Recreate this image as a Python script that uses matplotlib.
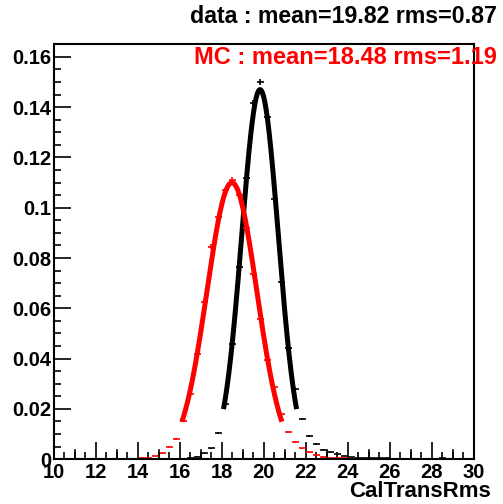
import numpy as np
import matplotlib
matplotlib.use("Agg")
import matplotlib.pyplot as plt
from matplotlib.ticker import MultipleLocator

plt.rcParams["font.family"] = ["Liberation Sans", "DejaVu Sans"]
plt.rcParams["font.weight"] = "bold"

# 60 bins between 10 and 30
edges = np.linspace(10, 30, 61)
centers = 0.5 * (edges[:-1] + edges[1:])
half_width = 0.5 * (edges[1] - edges[0])

# normalised histogram contents
data_vals = [0, 0, 0, 0, 0, 0, 0, 0, 0, 0,
             0, 0, 0, 0, 0, 0, 0, 0, 0.0002, 0.0004,
             0.0010, 0.0024, 0.0044, 0.0104, 0.0219, 0.0458, 0.0765, 0.112, 0.1418, 0.150,
             0.136, 0.1036, 0.0705, 0.0442, 0.0281, 0.0159, 0.0092, 0.0060, 0.0038, 0.0028,
             0.0020, 0.0012, 0.0009, 0.0006, 0.0005, 0.0004, 0.0003, 0.0003, 0.0002, 0.0002,
             0.0001, 0.0001, 0.0001, 0.0001, 0.0001, 0.0004, 0.0001, 0, 0, 0]
mc_vals = [0, 0, 0, 0, 0, 0, 0, 0, 0, 0,
           0.0001, 0.0001, 0.0003, 0.0006, 0.0012, 0.0024, 0.0048, 0.0080, 0.0151, 0.026,
           0.0418, 0.0625, 0.0845, 0.0964, 0.107, 0.111, 0.105, 0.092, 0.0737, 0.0558,
           0.0394, 0.0287, 0.018, 0.0108, 0.0068, 0.0044, 0.0028, 0.0016, 0.0010, 0.0006,
           0.0004, 0.0003, 0.0002, 0.0002, 0.0001, 0.0001, 0, 0, 0, 0,
           0, 0, 0, 0, 0, 0, 0, 0, 0, 0]

# gaussian fit parameters (amplitude, mean, sigma)
data_fit = (0.147, 19.82, 0.87)
mc_fit = (0.110, 18.48, 1.19)

data_label = "data : mean=19.82 rms=0.87"
mc_label = "MC : mean=18.48 rms=1.19"

# medium ticks on the x axis (ROOT style)
x_mid_ticks = [11, 13, 15, 17, 19, 21, 23, 25, 27, 29]


def gaus(x, amp, mu, sig):
    return amp * np.exp(-0.5 * ((x - mu) / sig) ** 2)


fig = plt.figure(figsize=(5.03, 5.04), dpi=100)
ax = fig.add_axes([0.107, 0.089, 0.835, 0.824])

for vals, fit, col in [(data_vals, data_fit, "black"), (mc_vals, mc_fit, "red")]:
    v = np.array(vals)
    m = v > 0
    ax.errorbar(centers[m], v[m], xerr=half_width, yerr=np.sqrt(v[m] * 1e-5),
                fmt="none", ecolor=col, elinewidth=1.2, capsize=0)
    xs = np.linspace(fit[1] - 2 * fit[2], fit[1] + 2 * fit[2], 200)
    ax.plot(xs, gaus(xs, *fit), color=col, lw=3.6, solid_capstyle="butt")

ax.set_xlim(10, 30)
ax.set_ylim(0, 0.1652)
ax.xaxis.set_major_locator(MultipleLocator(2))
ax.xaxis.set_minor_locator(MultipleLocator(0.5))
ax.yaxis.set_major_locator(MultipleLocator(0.02))
ax.yaxis.set_minor_locator(MultipleLocator(0.005))
ax.yaxis.set_major_formatter(plt.FuncFormatter(lambda v, p: f"{v:g}"))
ax.tick_params(which="both", direction="in", top=False, right=False, width=1.2,
               labelsize=14.5)
ax.tick_params(which="major", length=12, pad=2)
ax.tick_params(which="minor", length=5)
ax.tick_params(axis="x", pad=3)
for xt in x_mid_ticks:
    ax.plot([xt, xt], [0, 0.021], transform=ax.get_xaxis_transform(),
            color="black", lw=1.2, clip_on=False)
for s in ax.spines.values():
    s.set_linewidth(1.5)

fig.text(0.988, 0.968, data_label, ha="right", va="center", fontsize=16.7,
         fontweight="bold", color="black")
fig.text(0.988, 0.885, mc_label, ha="right", va="center", fontsize=17,
         fontweight="bold", color="red")
fig.text(0.975, 0.024, "CalTransRms", ha="right", va="center", fontsize=16,
         fontweight="bold")

fig.savefig("out.png", dpi=100)
